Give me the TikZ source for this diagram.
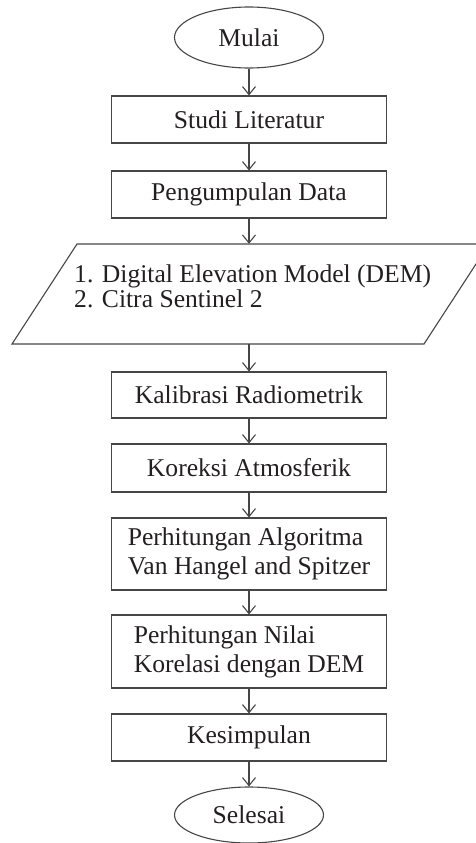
\documentclass[tikz,border=0pt]{standalone}
\usepackage{fontspec}
\setmainfont{Liberation Serif}
\usetikzlibrary{shapes.geometric,arrows.meta}
\definecolor{ln}{RGB}{70,70,70}
\definecolor{tx}{RGB}{35,31,32}
\begin{document}
\begin{tikzpicture}[x=1pt,y=-1pt,
  every node/.style={font=\fontsize{25.6}{29}\selectfont, text=tx},
  procbox/.style={draw=ln, line width=1.1pt, rectangle, minimum width=275pt, inner sep=0pt},
  term/.style={draw=ln, line width=1.1pt, ellipse, minimum width=149pt, inner sep=0pt},
  flow/.style={draw=ln, line width=1.1pt, -{Straight Barb[length=8pt,width=13pt,line width=1.1pt]}}]
\useasboundingbox (0,0) rectangle (475,843);
\node[term, minimum height=61pt] (mulai) at (249,37.5) {Mulai};
\node[procbox, minimum height=47pt] (studi) at (249,119.5) {Studi Literatur};
\node[procbox, minimum height=47pt] (data) at (249,194.5) {Pengumpulan Data};
\draw[draw=ln, line width=1.1pt] (77,244) -- (489,244) -- (424,344) -- (12,344) -- cycle;
\node[minimum width=300pt, minimum height=100pt, inner sep=0pt] (inp) at (249,294) {};
\node[anchor=base west, align=left, inner sep=0pt, font=\fontsize{25.6}{25}\selectfont] (inptext) at (74,307) {1. Digital Elevation Model (DEM)\\2. Citra Sentinel 2};
\node[procbox, minimum height=46pt] (kal) at (249,395) {Kalibrasi Radiometrik};
\node[procbox, minimum height=48pt] (kor) at (249,468) {Koreksi Atmosferik};
\node[procbox, minimum height=72pt, align=left] (alg) at (249,554) {Perhitungan Algoritma\\Van Hangel and Spitzer};
\node[procbox, minimum height=73pt, align=left] (nil) at (249,651.5) {Perhitungan Nilai\\Korelasi dengan DEM};
\node[procbox, minimum height=47pt] (kes) at (249,737.5) {Kesimpulan};
\node[term, minimum height=56pt] (selesai) at (249,815) {Selesai};
\draw[flow] (mulai.south) -- (studi.north);
\draw[flow] (studi.south) -- (data.north);
\draw[flow] (data.south) -- (inp.north);
\draw[flow] (inp.south) -- (kal.north);
\draw[flow] (kal.south) -- (kor.north);
\draw[flow] (kor.south) -- (alg.north);
\draw[flow] (alg.south) -- (nil.north);
\draw[flow] (nil.south) -- (kes.north);
\draw[flow] (kes.south) -- (selesai.north);
\end{tikzpicture}
\end{document}
